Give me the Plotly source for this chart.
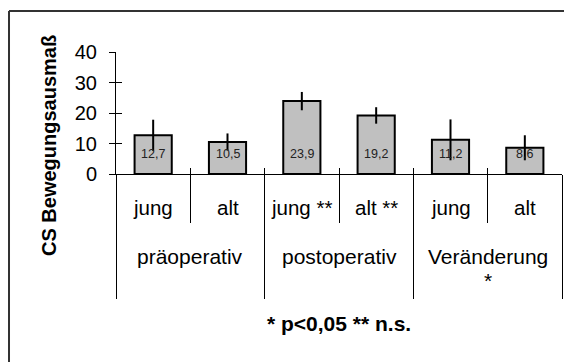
import plotly.graph_objects as go

# ---- data ----
subgroups = ["jung", "alt", "jung **", "alt **", "jung", "alt"]
groups = ["präoperativ", "postoperativ", "Veränderung"]
group_marks = ["", "", "*"]
values = [12.7, 10.5, 23.9, 19.2, 11.2, 8.6]
errors = [5.1, 2.8, 3.0, 2.7, 6.7, 4.1]
y_ticks = [0, 10, 20, 30, 40]
y_title = "CS Bewegungsausmaß"
note = "* p<0,05 ** n.s."

FONT = "Liberation Sans, Arial, sans-serif"
n = len(values)
xpos = [i + 0.5 for i in range(n)]
gpos = [2 * j + 1 for j in range(len(groups))]
value_labels = [f"{v:.1f}".replace(".", ",") for v in values]

fig = go.Figure()
fig.add_trace(go.Bar(
    x=xpos, y=values, width=0.5,
    marker=dict(color="#c0c0c0", line=dict(color="black", width=2)),
    error_y=dict(type="data", array=errors, visible=True, color="black",
                 thickness=2, width=0),
    showlegend=False, hoverinfo="skip",
))
# helper traces to activate overlay axes
fig.add_trace(go.Scatter(x=[None], y=[None], xaxis="x2", yaxis="y", showlegend=False))
fig.add_trace(go.Scatter(x=[None], y=[None], xaxis="x3", yaxis="y", showlegend=False))
fig.add_trace(go.Scatter(x=[None], y=[None], xaxis="x", yaxis="y2", showlegend=False))

ann = []
for x, t in zip(xpos, value_labels):
    ann.append(dict(x=x, y=0, xref="x", yref="y", text=t, showarrow=False,
                    yshift=20, yanchor="middle",
                    font=dict(family=FONT, size=12.5, color="#222")))
for x, t in zip(xpos, subgroups):
    ann.append(dict(x=x, y=0, xref="x", yref="paper", text=t, showarrow=False,
                    yshift=-33, yanchor="middle",
                    font=dict(family=FONT, size=20.5, color="black")))
for x, t, m in zip(gpos, groups, group_marks):
    ann.append(dict(x=x, y=0, xref="x", yref="paper", text=t, showarrow=False,
                    yshift=-82, yanchor="middle",
                    font=dict(family=FONT, size=21, color="black")))
    if m:
        ann.append(dict(x=x, y=0, xref="x", yref="paper", text=m, showarrow=False,
                        yshift=-106, yanchor="middle",
                        font=dict(family=FONT, size=21, color="black")))
ann.append(dict(x=0.5, y=0, xref="paper", yref="paper", text="<b>" + note + "</b>",
                showarrow=False, yshift=-149, yanchor="middle",
                font=dict(family=FONT, size=21, color="black")))
ann.append(dict(x=0, y=0, xref="paper", yref="paper", text="<b>" + y_title + "</b>",
                showarrow=False, textangle=-90, xshift=-67, yshift=28,
                xanchor="center", yanchor="middle",
                font=dict(family=FONT, size=20, color="black")))

fig.update_layout(
    width=572, height=362,
    margin=dict(l=108, r=18, t=44, b=196),
    paper_bgcolor="white", plot_bgcolor="white",
    annotations=ann,
    xaxis=dict(range=[0, n], showgrid=False, zeroline=False, showline=True,
               linecolor="black", linewidth=1, tickmode="array",
               tickvals=[1, 3, 5], ticks="outside", ticklen=48, tickcolor="black",
               showticklabels=False, fixedrange=True),
    xaxis2=dict(range=[0, n], overlaying="x", showgrid=False, zeroline=False,
                showline=False, tickmode="array", tickvals=[0, 2, 4, 6],
                ticks="outside", ticklen=124, tickcolor="black",
                showticklabels=False, side="bottom"),
    xaxis3=dict(range=[0, n], overlaying="x", showgrid=False, zeroline=False,
                showline=False, tickmode="array", tickvals=list(range(n + 1)),
                ticks="inside", ticklen=6, tickcolor="black",
                showticklabels=False, side="bottom"),
    yaxis=dict(range=[0, 40], showgrid=False, zeroline=False, showline=True,
               linecolor="black", linewidth=1, tickmode="array", tickvals=y_ticks,
               ticks="outside", ticklen=6, tickcolor="black",
               ticklabelstandoff=8,
               tickfont=dict(family=FONT, size=20, color="black"), fixedrange=True),
    yaxis2=dict(range=[0, 40], overlaying="y", showgrid=False, zeroline=False,
                showline=False, tickmode="array", tickvals=y_ticks,
                ticks="inside", ticklen=6, tickcolor="black",
                showticklabels=False, side="left"),
    shapes=[
        dict(type="line", xref="paper", yref="paper", x0=-0.2399, x1=-0.2399,
             y0=1.336, y1=-1.7, line=dict(color="#333", width=2)),
        dict(type="line", xref="paper", yref="paper", x0=-0.2399, x1=1.1,
             y0=1.336, y1=1.336, line=dict(color="#333", width=2)),
    ],
)

fig.write_html("out.html")
